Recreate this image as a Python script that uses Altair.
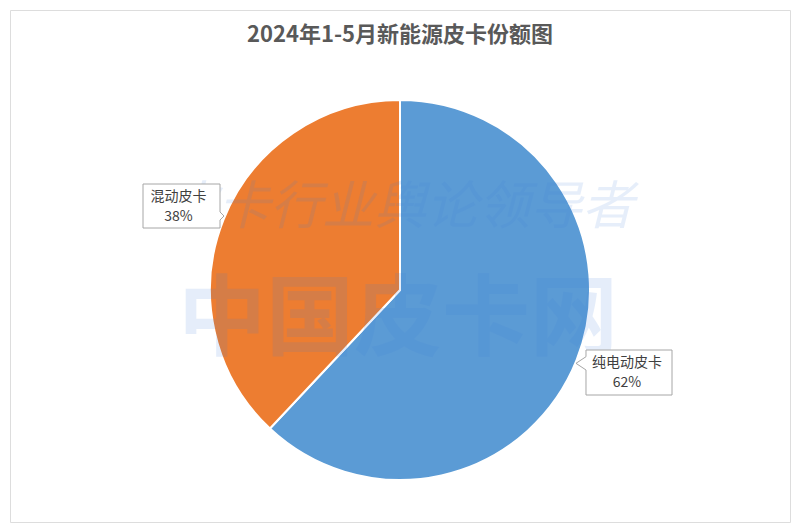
import altair as alt
import pandas as pd

# ---- data ----
categories = ["纯电动皮卡", "混动皮卡"]
shares = [62, 38]
colors = ["#5B9BD5", "#ED7D31"]
title_text = "2024年1-5月新能源皮卡份额图"
watermark_big = "中国皮卡网"
watermark_small = "皮卡行业舆论领导者"

total = sum(shares)
df = pd.DataFrame({
    "cat": categories,
    "share": shares,
    "order": list(range(len(categories))),
    "pct": [f"{round(s * 100 / total)}%" for s in shares],
})

# ---- layout (pixels; given in page coordinates, shifted by OFF) ----
PAD = 2
OFF = 8 + PAD
W, H = 784 - 2 * PAD, 516 - 2 * PAD
CX, CY, R = 400 - OFF, 290 - OFF, 190
label_layout = {
    "混动皮卡": dict(
        bx=181.5 - OFF, by=206 - OFF, size=6400,
        path="M -0.9625 -0.55 L 0.9625 -0.55 L 0.9625 0.15 L 1.0625 0.25 "
             "L 0.9625 0.35 L 0.9625 0.55 L -0.9625 0.55 Z",
        tx=178.5 - OFF, ty1=196.5 - OFF, ty2=216.5 - OFF),
    "纯电动皮卡": dict(
        bx=629 - OFF, by=372.5 - OFF, size=8100,
        path="M -0.9556 -0.5 L 0.9556 -0.5 L 0.9556 0.5 L -0.9556 0.5 "
             "L -0.9556 -0.056 L -1.178 -0.204 L -0.9556 -0.351 Z",
        tx=627 - OFF, ty1=362.5 - OFF, ty2=383 - OFF),
}

FONT = "Noto Sans CJK SC"
base = alt.Chart(df)

pie = base.mark_arc(radius=R, stroke="white", strokeWidth=2).encode(
    theta=alt.Theta("share:Q", stack=True),
    color=alt.Color("cat:N", scale=alt.Scale(domain=categories, range=colors), legend=None),
    order=alt.Order("order:Q"),
    x=alt.value(CX),
    y=alt.value(CY),
)

one = alt.Chart(pd.DataFrame({"t": [title_text], "w1": [watermark_big], "w2": [watermark_small]}))

title = one.mark_text(font=FONT, fontSize=22, fontWeight="bold", color="#595959",
                      baseline="middle", align="center").encode(
    text="t:N", x=alt.value(400 - OFF), y=alt.value(35 - OFF))

wm1 = one.mark_text(font=FONT, fontSize=88, fontWeight="bold", color="#3C7DDC",
                    opacity=0.13, baseline="middle", align="center").encode(
    text="w1:N", x=alt.value(398 - OFF), y=alt.value(322 - OFF))

wm2 = one.mark_text(font=FONT, fontSize=52, color="#3C7DDC", opacity=0.12,
                    baseline="middle", align="center", fontStyle="italic").encode(
    text="w2:N", x=alt.value(400 - OFF), y=alt.value(208 - OFF))

layers = [pie, wm2, wm1, title]
for cat, L in label_layout.items():
    sub = base.transform_filter(alt.datum.cat == cat)
    box = sub.mark_point(shape=L["path"], size=L["size"], filled=True, fill="white",
                         stroke="#A6A6A6", strokeWidth=1, opacity=1).encode(
        x=alt.value(L["bx"]), y=alt.value(L["by"]))
    t1 = sub.mark_text(font=FONT, fontSize=14, color="#404040", baseline="middle",
                       align="center").encode(
        text="cat:N", x=alt.value(L["tx"]), y=alt.value(L["ty1"]))
    t2 = sub.mark_text(font=FONT, fontSize=14, color="#404040", baseline="middle",
                       align="center").encode(
        text="pct:N", x=alt.value(L["tx"]), y=alt.value(L["ty2"]))
    layers += [box, t1, t2]

chart = alt.layer(*layers).properties(
    width=W, height=H, padding=PAD,
    autosize=alt.AutoSizeParams(type="none"),
).configure_view(stroke="#D9D9D9", strokeWidth=1).configure(background="white")

chart.save("out.html", embed_options={"renderer": "svg", "actions": False})
